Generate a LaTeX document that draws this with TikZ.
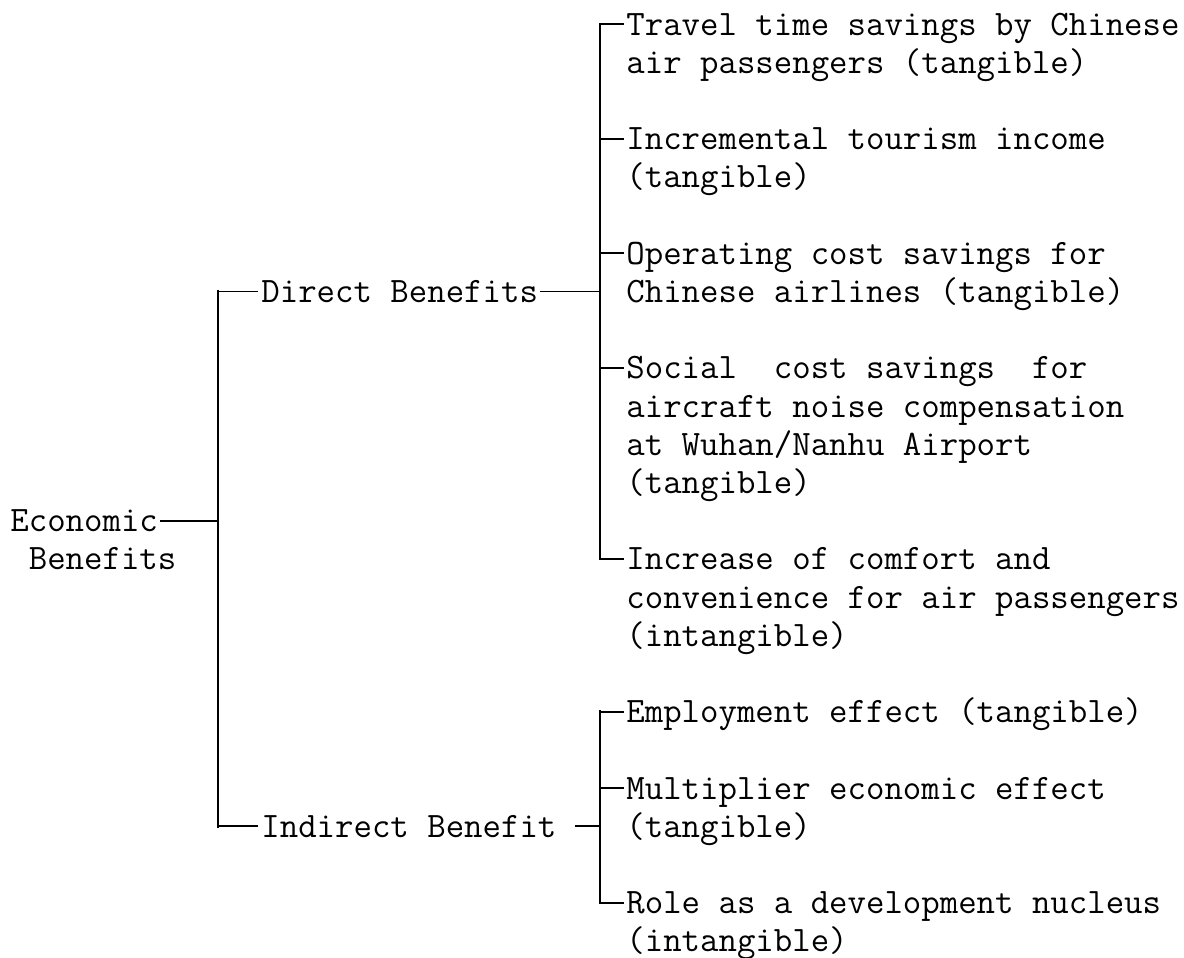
\documentclass[tikz,border=0pt]{standalone}
\usetikzlibrary{calc}
\begin{document}
\begin{tikzpicture}[x=0.5pt,y=-0.5pt,
  lbl/.style={anchor=base west, inner sep=0pt, align=left,
    font=\fontsize{17.9}{19.1}\selectfont\ttfamily},
  vbar/.style={line width=1.4pt, line cap=rect},
  hbar/.style={line width=0.9pt}]
\useasboundingbox (0,0) rectangle (1184,958);
% every text node is placed by the baseline of its last line;
% lines are 38.2 units apart

% root
\node[lbl] (eco) at (10,569.8) {Economic\\\phantom{E}Benefits};

% first level
\node[lbl] (dir) at (261,302.4) {Direct Benefits};
\node[lbl] (ind) at (261,837.2) {Indirect Benefit};

% direct benefits
\node[lbl] (d1) at (626,73.2)  {Travel time savings by Chinese\\air passengers (tangible)};
\node[lbl] (d2) at (626,187.8) {Incremental tourism income\\(tangible)};
\node[lbl] (d3) at (626,302.4) {Operating cost savings for\\Chinese airlines (tangible)};
\node[lbl] (d4) at (626,493.4) {Social\ \ cost savings\ \ for\\aircraft noise compensation\\at Wuhan/Nanhu Airport\\(tangible)};
\node[lbl] (d5) at (626,646.2) {Increase of comfort and\\convenience for air passengers\\(intangible)};

% indirect benefits
\node[lbl] (i1) at (626,722.6) {Employment effect (tangible)};
\node[lbl] (i2) at (626,837.2) {Multiplier economic effect\\(tangible)};
\node[lbl] (i3) at (626,951.8) {Role as a development nucleus\\(intangible)};

% junction points of the brackets
\coordinate (trTop) at (218,291.4);
\coordinate (trMid) at (218,520.6);
\coordinate (trBot) at (218,826.2);
\coordinate (dbTop) at (600,24);
\coordinate (dbMid) at (600,291.4);
\coordinate (dbBot) at (600,558.8);
\coordinate (ibTop) at (600,711.6);
\coordinate (ibMid) at (600,826.2);
\coordinate (ibBot) at (600,902.4);

% vertical bars
\draw[vbar] (trTop) -- (trBot);
\draw[vbar] (dbTop) -- (dbBot);
\draw[vbar] (ibTop) -- (ibBot);

% root and first level branches
\draw[hbar] ([shift={(150,-49.2)}]eco.base west) -- (trMid);
\draw[hbar] (trTop) -- ([shift={(-3,-11)}]dir.base west);
\draw[hbar] (trBot) -- ([shift={(-3,-11)}]ind.base west);
\draw[hbar] ([shift={(2,-11)}]dir.base east) -- (dbMid);
\draw[hbar] ([shift={(18,-11)}]ind.base east) -- (ibMid);

% leaf branches, entering each text at the middle of its first line
\foreach \n/\k in {d1/1,d2/1,d3/1,d4/3,d5/2,i1/0,i2/1,i3/1}{
  \path ([shift={(-2,-11-38.2*\k)}]\n.base west) coordinate (\n-in);
  \draw[hbar] (\n-in -| dbTop) -- (\n-in);
}
\end{tikzpicture}
\end{document}
